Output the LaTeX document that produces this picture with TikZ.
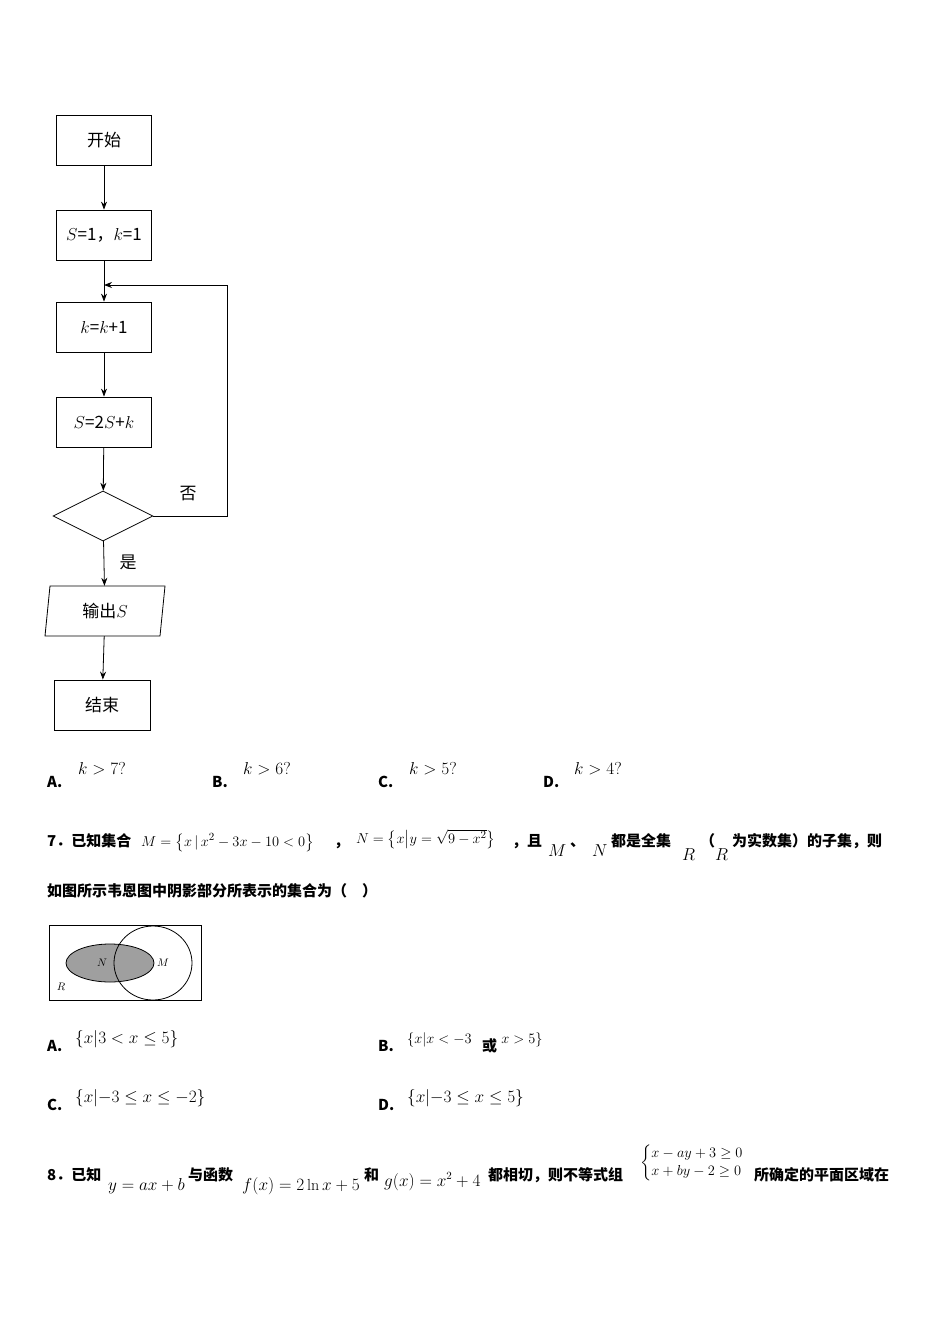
\documentclass[tikz,border=0pt]{standalone}
\usepackage{fontspec}
\usepackage{amsmath,amssymb}
\newfontfamily\cjk{Noto Sans CJK SC}
\usetikzlibrary{shapes.geometric,arrows.meta}
\tikzset{
 box/.style={draw,thick,minimum width=95pt,minimum height=50pt,inner sep=0pt,font=\cjk\fontsize{17}{17}\selectfont},
 arr/.style={thick,-{Stealth[length=8pt,width=6pt]}},
 txt/.style={anchor=base west,inner sep=0pt,font=\cjk\bfseries\fontsize{15}{15}\selectfont},
 mth/.style={anchor=base west,inner sep=0pt,font=\fontsize{16}{16}\selectfont},
 mths/.style={anchor=base west,inner sep=0pt,font=\fontsize{15}{15}\selectfont}
}
\begin{document}
\begin{tikzpicture}[x=1pt,y=-1pt]
\useasboundingbox (0,0) rectangle (950,1344);
\node[box] (start) at (104,140) {开始};
\node[box] (init) at (104,235) {$S$=1，$k$=1};
\node[box] (inc) at (104,327) {$k$=$k$+1};
\node[box] (upd) at (104,422) {$S$=2$S$+$k$};
\node[draw,thick,diamond,aspect=2,minimum width=100pt,minimum height=50pt,inner sep=0pt] (cond) at (103,516) {};
\node[minimum width=110pt,minimum height=50pt,inner sep=0pt,font=\cjk\fontsize{17}{17}\selectfont] (out) at (105,611) {输出$S$};
\draw[thick] (50,586) -- (165,586) -- (160,636) -- (45,636) -- cycle;
\node[box,minimum width=96pt] (stop) at (102,705) {结束};
\coordinate (loopin) at (104,285);
\coordinate (c1) at (227,516);
\coordinate (c2) at (227,285);
\draw[arr] (start) -- (init);
\draw[thick] (init) -- (loopin);
\draw[arr] (loopin) -- (inc);
\draw[arr] (inc) -- (upd);
\draw[arr] (upd) -- (cond);
\draw[arr] (cond) -- (out);
\draw[arr] (out) -- (stop);
\draw[arr] (cond.east) -- (c1) -- (c2) -- (loopin);
\node[font=\cjk\fontsize{17}{17}\selectfont] (no) at (188,494) {否};
\node[font=\cjk\fontsize{17}{17}\selectfont] (yes) at (128,562) {是};

\node[txt] (oa) at (47,787) {A.};
\node[mth] (oav) at (78,774) {$k>7?$};
\node[txt] (ob) at (212,787) {B.};
\node[mth] (obv) at (243,774) {$k>6?$};
\node[txt] (oc) at (378,787) {C.};
\node[mth] (ocv) at (409,774) {$k>5?$};
\node[txt] (od) at (543,787) {D.};
\node[mth] (odv) at (574,774) {$k>4?$};

\node[txt] (q7a) at (47,846) {7．已知集合};
\node[mths] (q7m) at (141,846) {$M=\left\{x\,|\,x^2-3x-10<0\right\}$};
\node[txt] (q7b) at (334,846) {，};
\node[mths] (q7n) at (356,843) {$N=\left\{x\middle|y=\sqrt{9-x^2}\right\}$};
\node[txt] (q7c) at (512,846) {，且};
\node[mth] (q7d) at (548,856) {$M$};
\node[txt] (q7e) at (570,846) {、};
\node[mth] (q7f) at (592,856) {$N$};
\node[txt] (q7g) at (611,846) {都是全集};
\node[mth] (q7h) at (682,860) {$R$};
\node[txt] (q7i) at (700,846) {（};
\node[mth] (q7j) at (715,860) {$R$};
\node[txt] (q7k) at (732,846) {为实数集）的子集，则};
\node[txt] (q7l) at (47,896) {如图所示韦恩图中阴影部分所表示的集合为（\quad）};

\draw[thick] (49,925) rectangle (201,1000);
\draw[thick,fill=gray!75] (110,963) ellipse [x radius=44,y radius=19];
\draw[thick] (153,963) ellipse [x radius=39,y radius=37];
\node[font=\fontsize{11}{11}\selectfont] (vn) at (102,963) {$N$};
\node[font=\fontsize{11}{11}\selectfont] (vm) at (163,963) {$M$};
\node[font=\fontsize{11}{11}\selectfont] (vr) at (61,987) {$R$};

\node[txt] (pa) at (47,1051) {A.};
\node[mth] (pav) at (75,1043) {$\left\{x\middle|3<x\le5\right\}$};
\node[txt] (pb) at (378,1051) {B.};
\node[mths] (pbv) at (407,1043) {$\left\{x\middle|x<-3\right.$};
\node[txt] (pbo) at (482,1051) {或};
\node[mths] (pbw) at (500,1043) {$\left.x>5\right\}$};
\node[txt] (pc) at (47,1110) {C.};
\node[mth] (pcv) at (75,1102) {$\left\{x\middle|-3\le x\le-2\right\}$};
\node[txt] (pd) at (378,1110) {D.};
\node[mth] (pdv) at (407,1102) {$\left\{x\middle|-3\le x\le5\right\}$};

\node[txt] (q8a) at (47,1180) {8．已知};
\node[mth] (q8b) at (108,1190) {$y=ax+b$};
\node[txt] (q8c) at (188,1180) {与函数};
\node[mth] (q8d) at (242,1190) {$f(x)=2\ln x+5$};
\node[txt] (q8e) at (364,1180) {和};
\node[mth] (q8f) at (384,1186) {$g(x)=x^2+4$};
\node[txt] (q8g) at (488,1180) {都相切，则不等式组};
\node[mths] (q8h) at (640,1166) {$\begin{cases}x-ay+3\ge0\\ x+by-2\ge0\end{cases}$};
\node[txt] (q8i) at (754,1180) {所确定的平面区域在};
\end{tikzpicture}
\end{document}
